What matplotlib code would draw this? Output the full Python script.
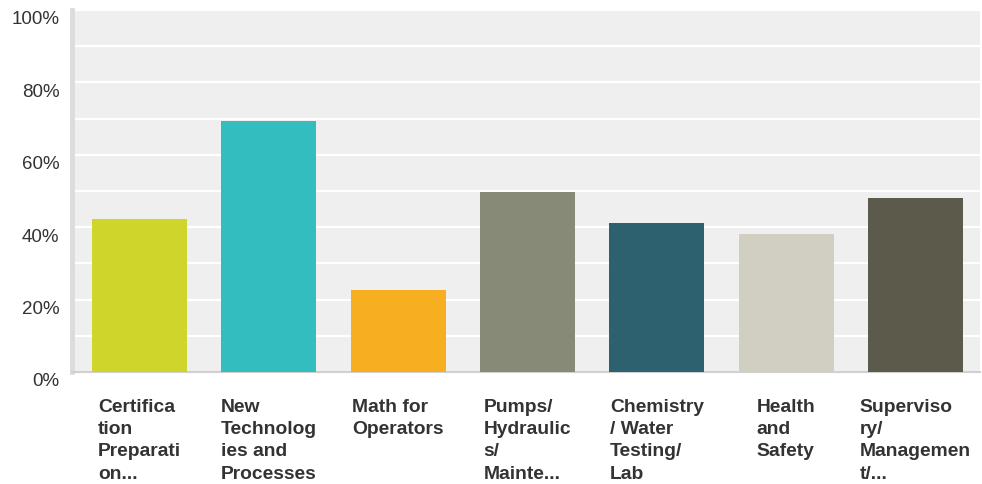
import matplotlib.pyplot as plt
import matplotlib.transforms as mtransforms
import numpy as np

plt.rcParams['font.family'] = ['Liberation Sans', 'DejaVu Sans']

categories = ["Certifica\ntion\nPreparati\non...",
              "New\nTechnolog\nies and\nProcesses",
              "Math for\nOperators",
              "Pumps/\nHydraulic\ns/\nMainte...",
              "Chemistry\n/ Water\nTesting/\nLab",
              "Health\nand\nSafety",
              "Superviso\nry/\nManagemen\nt/..."]
values = [42.3, 69.3, 22.7, 49.7, 41.2, 38.1, 48.1]
colors = ["#cfd52a", "#33bdbf", "#f7ae20", "#888a78", "#2d616f", "#d0cfc1", "#5c5a4b"]
yticks = [0, 20, 40, 60, 80, 100]

fig = plt.figure(figsize=(9.82, 4.85), dpi=100)
ax = fig.add_axes([72 / 982, (485 - 373) / 485, 908 / 982, 362 / 485])
ax.set_facecolor("#efefef")

x = np.arange(len(values))
w = 0.735
ax.bar(x, values, width=w, color=colors, zorder=3)

ax.set_xlim(-0.5 - 3 / 129.3, len(values) - 0.5)
ax.set_ylim(0, 100)
ax.set_yticks(yticks)
ax.set_yticklabels([f"{v}%" for v in yticks])
ax.set_yticks(np.arange(10, 100, 20), minor=True)
ax.grid(axis="y", which="both", color="white", linewidth=1.6, zorder=1)
ax.set_xticks([])
ax.tick_params(axis="y", which="both", length=0, pad=9, labelsize=13.5, labelcolor="#333333")

# y labels sit a little below their grid lines in the original
off = mtransforms.ScaledTranslation(0, -7 / 100, fig.dpi_scale_trans)
for lab in ax.get_yticklabels():
    lab.set_transform(lab.get_transform() + off)

for s in ["top", "right"]:
    ax.spines[s].set_visible(False)
ax.spines["left"].set_color("#dcdcdc")
ax.spines["left"].set_linewidth(3.5)
ax.spines["bottom"].set_color("#d0d0d0")
ax.spines["bottom"].set_linewidth(1.5)

trans = mtransforms.blended_transform_factory(ax.transData, ax.transAxes)
for i, lab in enumerate(categories):
    ax.text(i, -0.072, lab, transform=trans, ha="center", va="top", multialignment="left",
            fontsize=13.9, fontweight="bold", color="#333333", linespacing=1.4)

fig.savefig("out.png", dpi=100)
